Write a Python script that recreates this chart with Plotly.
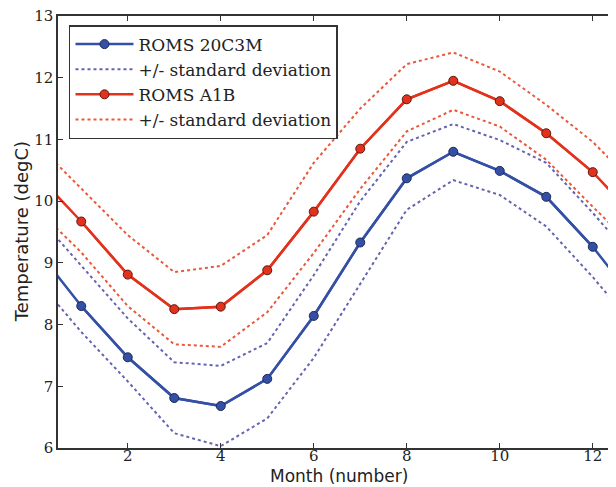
import plotly.graph_objects as go

months = [1, 2, 3, 4, 5, 6, 7, 8, 9, 10, 11, 12]

blue_mean = [8.30, 7.47, 6.81, 6.68, 7.12, 8.14, 9.33, 10.37, 10.80, 10.49, 10.07, 9.26]
blue_upper = [8.95, 8.10, 7.39, 7.33, 7.70, 8.80, 10.00, 10.96, 11.25, 10.99, 10.62, 9.81]
blue_lower = [7.88, 7.08, 6.24, 6.03, 6.48, 7.46, 8.67, 9.86, 10.34, 10.10, 9.59, 8.77]

red_mean = [9.67, 8.81, 8.25, 8.29, 8.88, 9.83, 10.85, 11.65, 11.95, 11.62, 11.10, 10.47]
red_upper = [10.20, 9.45, 8.85, 8.95, 9.45, 10.62, 11.50, 12.22, 12.41, 12.10, 11.56, 10.96]
red_lower = [9.17, 8.30, 7.68, 7.64, 8.20, 9.16, 10.20, 11.13, 11.48, 11.21, 10.67, 9.91]

x_ticks = [2, 4, 6, 8, 10, 12]
y_ticks = [6, 7, 8, 9, 10, 11, 12, 13]

x_title = "Month (number)"
y_title = "Temperature (degC)"

BLUE = "#3450a6"
RED = "#e2321c"
BLUE_DOT = "#6464b0"
RED_DOT = "#e8583a"

# annual cycle wraps: December before January, January after December
xw = [months[-1] - 12] + months + [months[0] + 12]


def wrap(v):
    return [v[-1]] + list(v) + [v[0]]


fig = go.Figure()

# blue series
fig.add_trace(go.Scatter(x=xw, y=wrap(blue_mean), mode="lines",
                         line=dict(color=BLUE, width=2.5), showlegend=False,
                         hoverinfo="skip"))
fig.add_trace(go.Scatter(x=months, y=blue_mean, mode="lines+markers",
                         name="ROMS 20C3M",
                         line=dict(color=BLUE, width=2.5),
                         marker=dict(size=9, color=BLUE,
                                     line=dict(color="#1c2a55", width=1))))
fig.add_trace(go.Scatter(x=xw, y=wrap(blue_upper), mode="lines",
                         name="+/- standard deviation", legendgroup="bstd",
                         line=dict(color=BLUE_DOT, width=2, dash="dot")))
fig.add_trace(go.Scatter(x=xw, y=wrap(blue_lower), mode="lines",
                         legendgroup="bstd", showlegend=False,
                         line=dict(color=BLUE_DOT, width=2, dash="dot")))

# red series
fig.add_trace(go.Scatter(x=xw, y=wrap(red_mean), mode="lines",
                         line=dict(color=RED, width=2.5), showlegend=False,
                         hoverinfo="skip"))
fig.add_trace(go.Scatter(x=months, y=red_mean, mode="lines+markers",
                         name="ROMS A1B",
                         line=dict(color=RED, width=2.5),
                         marker=dict(size=9, color=RED,
                                     line=dict(color="#5a1a10", width=1))))
fig.add_trace(go.Scatter(x=xw, y=wrap(red_upper), mode="lines",
                         name="+/- standard deviation", legendgroup="rstd",
                         line=dict(color=RED_DOT, width=2, dash="dot")))
fig.add_trace(go.Scatter(x=xw, y=wrap(red_lower), mode="lines",
                         legendgroup="rstd", showlegend=False,
                         line=dict(color=RED_DOT, width=2, dash="dot")))

serif = "DejaVu Serif"
sans = "DejaVu Sans"

# the page body has an 8px default margin, so the figure is sized to fit the
# 616x487 window after that offset
fig.update_layout(
    width=608, height=479,
    margin=dict(l=50, r=0, t=8, b=39),
    paper_bgcolor="white", plot_bgcolor="white",
    showlegend=True,
    legend=dict(x=0.0197, y=0.979, xanchor="left", yanchor="top",
                bgcolor="white", bordercolor="#333333", borderwidth=1.5,
                font=dict(family=serif, size=17, color="#222222"),
                tracegroupgap=0, itemwidth=58),
    xaxis=dict(range=[0.5, 12.5], tickvals=x_ticks,
               ticktext=[str(t) for t in x_ticks], automargin=False,
               ticklabeloverflow="allow", ticklabelstandoff=-7,
               ticks="inside", ticklen=5, tickcolor="#333333",
               showline=True, linecolor="#333333", linewidth=1.5, mirror="ticks",
               showgrid=False, zeroline=False,
               tickfont=dict(family=serif, size=15, color="#222222")),
    yaxis=dict(range=[6, 13], tickvals=y_ticks,
               ticktext=[str(t) for t in y_ticks], automargin=False,
               ticklabeloverflow="allow",
               ticks="inside", ticklen=5, tickcolor="#333333",
               showline=True, linecolor="#333333", linewidth=1.5, mirror="ticks",
               showgrid=False, zeroline=False,
               tickfont=dict(family=serif, size=15, color="#222222")),
    annotations=[
        dict(text=x_title, xref="paper", yref="paper", x=0.504, y=0,
             xanchor="center", yanchor="middle", yshift=-28, borderpad=0,
             showarrow=False,
             font=dict(family=sans, size=17, color="#222222")),
        dict(text=y_title, xref="paper", yref="paper", x=-0.066, y=0.5,
             xanchor="center", yanchor="middle", textangle=-90, showarrow=False,
             font=dict(family=sans, size=18, color="#222222")),
    ],
)

fig.write_html("out.html")
